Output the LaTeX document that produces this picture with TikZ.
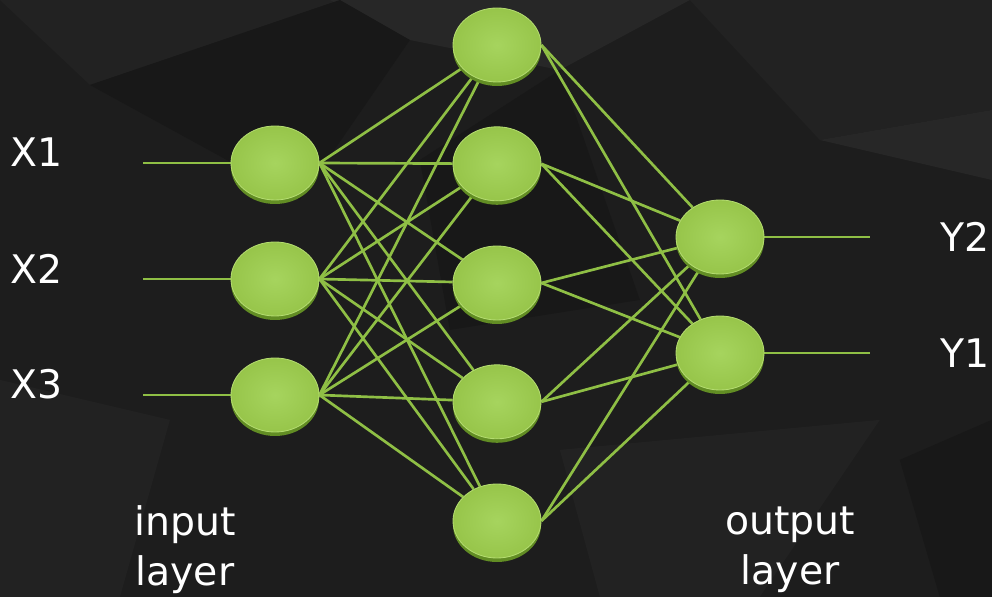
\documentclass[tikz,border=0pt]{standalone}
\usepackage{fontspec}
\setmainfont{DejaVu Sans}
\usetikzlibrary{shapes.geometric,shadows}

\definecolor{bgbase}{HTML}{1D1D1D}
\definecolor{bgA}{HTML}{222222}
\definecolor{bgB}{HTML}{181818}
\definecolor{bgC}{HTML}{272727}
\definecolor{nodegreen}{HTML}{97C54A}
\definecolor{nodelight}{HTML}{A6D45E}
\definecolor{nodeedge}{HTML}{B4DC70}
\definecolor{nodedark}{HTML}{628D24}
\definecolor{linkgreen}{HTML}{8FBF45}

\pgfdeclarelayer{bg}
\pgfdeclarelayer{edges}
\pgfsetlayers{bg,edges,main}

\tikzset{
  neuron/.style={ellipse, minimum width=2.2cm, minimum height=1.85cm, inner sep=0pt,
    draw=nodeedge, line width=0.6pt, inner color=nodelight, outer color=nodegreen,
    drop shadow={shadow xshift=0cm, shadow yshift=-0.1cm, fill=nodedark, opacity=1}},
  link/.style={linkgreen, line width=1.9pt},
  txt/.style={text=white, inner sep=0pt, font=\fontsize{28}{35.5}\selectfont}
}

\begin{document}
\begin{tikzpicture}[auto]

 \useasboundingbox (0,0) rectangle (24.8,14.925);

 %background
 \begin{pgfonlayer}{bg}
   \fill[bgbase] (0,0) rectangle (24.8,14.925);
   \begin{scope}[shift={(0,14.925)}, x=0.025cm, y=-0.025cm]
     \fill[bgA] (0,0) -- (340,0) -- (90,85) -- cycle;
     \fill[bgC] (330,0) -- (690,0) -- (560,70) -- (410,40) -- cycle;
     \fill[bgB] (90,85) -- (340,0) -- (410,40) -- (300,200) -- cycle;
     \fill[bgA] (690,0) -- (992,0) -- (992,110) -- (820,140) -- cycle;
     \fill[bgC] (820,140) -- (992,110) -- (992,180) -- cycle;
     \fill[bgB] (420,160) -- (560,70) -- (640,300) -- (450,330) -- cycle;
     \fill[bgA] (0,380) -- (170,420) -- (120,597) -- (0,597) -- cycle;
     \fill[bgB] (900,460) -- (992,420) -- (992,597) -- (940,597) -- cycle;
     \fill[bgA] (560,450) -- (880,420) -- (760,597) -- (600,597) -- cycle;
   \end{scope}
 \end{pgfonlayer}

 %input layer
 \def\dx{6.875}
 \foreach \i/\y in {1/10.85, 2/7.95, 3/5.05} {
   \node[neuron] (I\i) at (\dx, \y) {};
   \coordinate (A\i) at (3.575, \y);
   \node[txt, anchor=west] (X\i) at (0.25, \y + 0.26) {X\i};
 }

 %hidden layer
 \def\dx{12.425}
 \foreach \i/\y in {1/13.8, 2/10.83, 3/7.85, 4/4.88, 5/1.9} {
   \node[neuron] (H\i) at (\dx, \y) {};
 }

 %output layer
 \def\dx{18}
 \foreach \i/\y/\name in {1/9.0/2, 2/6.1/1} {
   \node[neuron] (O\i) at (\dx, \y) {};
   \coordinate (B\i) at (21.75, \y);
   \node[txt, anchor=west] (Y\name) at (23.5, \y) {Y\name};
 }

 %captions
 \node[txt, align=center] (inlayer) at (4.625, 1.175) {input\\layer};
 \node[txt, align=center] (outlayer) at (19.75, 1.175) {output\\layer};

 %links
 \begin{pgfonlayer}{edges}
   \foreach \i in {1,2,3} {
     \draw[link] (A\i) -- (I\i.west);
     \foreach \j in {1,...,5}
       \draw[link] (I\i.east) -- (H\j);
   }
   \foreach \j in {1,...,5}
     \foreach \k in {1,2}
       \draw[link] (H\j.east) -- (O\k);
   \foreach \k in {1,2}
     \draw[link] (O\k.east) -- (B\k);
 \end{pgfonlayer}

\end{tikzpicture}
\end{document}
